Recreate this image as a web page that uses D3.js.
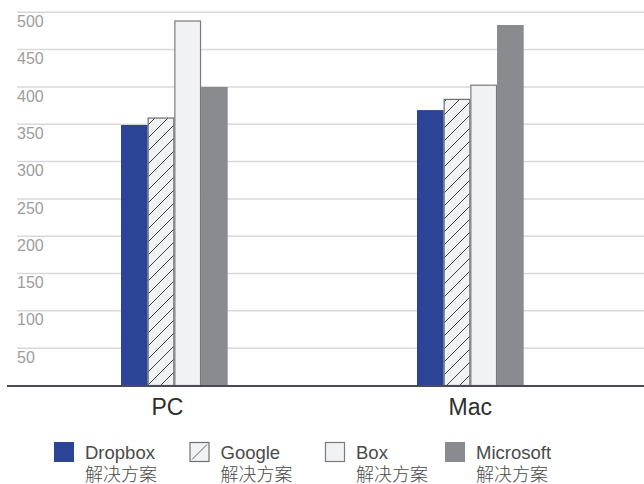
<!DOCTYPE html>
<html>
<head>
<meta charset="utf-8">
<script src="https://cdn.jsdelivr.net/npm/d3@7"></script>
<style>
  html, body { margin: 0; padding: 0; background: #fff; overflow: hidden; }
  svg { display: block; }
  text { font-family: "Helvetica Neue", Helvetica, Arial, "Liberation Sans", "Noto Sans CJK SC", sans-serif; }
</style>
</head>
<body>
<svg id="chart" width="644" height="484"></svg>
<script>
// ---- data ----
const categories = ["PC", "Mac"];
const seriesNames = ["Dropbox", "Google", "Box", "Microsoft"];
const seriesSub = ["解决方案", "解决方案", "解决方案", "解决方案"];
const dropboxValues = [349, 369];
const googleValues = [359, 384];
const boxValues = [489, 403];
const microsoftValues = [400, 483];
const yTickValues = [50, 100, 150, 200, 250, 300, 350, 400, 450, 500];

const valuesBySeries = [dropboxValues, googleValues, boxValues, microsoftValues];

// ---- layout / style ----
const W = 644, H = 484;
const svg = d3.select("#chart");

const y = d3.scaleLinear().domain([0, 500]).range([385.5, 12.3]);
const x0 = d3.scaleBand().domain(categories).range([32.2, 612.5])
  .paddingInner(0.6395).paddingOuter(0.3);
const x1 = d3.scaleBand().domain(seriesNames).range([0, x0.bandwidth()]).padding(0);

const fills = {
  Dropbox: "#2b4496",
  Google: "url(#hatch)",
  Box: "#f1f2f4",
  Microsoft: "#8a8b8f"
};
const strokes = {
  Dropbox: "none",
  Google: "#6e6e6e",
  Box: "#7a7a7a",
  Microsoft: "none"
};

// hatch pattern
const defs = svg.append("defs");
const pat = defs.append("pattern")
  .attr("id", "hatch")
  .attr("patternUnits", "userSpaceOnUse")
  .attr("width", 13).attr("height", 13);
pat.append("rect").attr("width", 13).attr("height", 13).attr("fill", "#f1f2f4");
pat.append("path")
  .attr("d", "M0,13 L13,0 M-3,3 L3,-3 M10,16 L16,10")
  .attr("stroke", "#2a2a2a").attr("stroke-width", 0.9);

// gridlines
const gridG = svg.append("g");
gridG.selectAll("line").data(yTickValues).join("line")
  .attr("x1", 17).attr("x2", W)
  .attr("y1", d => y(d)).attr("y2", d => y(d))
  .attr("stroke", "#d9d9d9").attr("stroke-width", 1.5);

// tick labels
gridG.selectAll("text").data(yTickValues).join("text")
  .attr("x", 17).attr("y", d => y(d) + 14.6)
  .attr("font-size", 16).attr("fill", "#9d9d9d")
  .text(d => d);

// bars
const rows = [];
categories.forEach((c, ci) => {
  seriesNames.forEach((s, si) => {
    rows.push({ cat: c, series: s, value: valuesBySeries[si][ci] });
  });
});

svg.append("g").selectAll("rect").data(rows).join("rect")
  .attr("x", d => x0(d.cat) + x1(d.series) + (strokes[d.series] === "none" ? 0 : 0.5))
  .attr("y", d => y(d.value) + (strokes[d.series] === "none" ? 0 : 0.5))
  .attr("width", d => x1.bandwidth() - (strokes[d.series] === "none" ? 0 : 1))
  .attr("height", d => y(0) - y(d.value) - (strokes[d.series] === "none" ? 0 : 0.5))
  .attr("fill", d => fills[d.series])
  .attr("stroke", d => strokes[d.series])
  .attr("stroke-width", 1.2);

// baseline
svg.append("line")
  .attr("x1", 7).attr("x2", W)
  .attr("y1", y(0) + 0.5).attr("y2", y(0) + 0.5)
  .attr("stroke", "#4b4a57").attr("stroke-width", 2);

// category labels
svg.append("g").selectAll("text").data(categories).join("text")
  .attr("x", d => x0(d) + x0.bandwidth() / 2 + (d === "PC" ? -7 : 0))
  .attr("y", 415)
  .attr("text-anchor", "middle")
  .attr("font-size", 23)
  .attr("fill", "#2e2e2e")
  .text(d => d);

// legend
const legendX = [54, 189.5, 325, 445];
const lg = svg.append("g").selectAll("g").data(seriesNames).join("g")
  .attr("transform", (d, i) => `translate(${legendX[i]},442)`);

lg.append("rect")
  .attr("x", d => strokes[d] === "none" ? 0 : 0.5)
  .attr("y", d => strokes[d] === "none" ? 0 : 0.5)
  .attr("width", d => strokes[d] === "none" ? 20 : 19)
  .attr("height", d => strokes[d] === "none" ? 20 : 19)
  .attr("fill", d => d === "Google" ? "#f1f2f4" : fills[d])
  .attr("stroke", d => strokes[d])
  .attr("stroke-width", 1.2);

lg.filter(d => d === "Google").append("line")
  .attr("x1", 2.5).attr("y1", 17.5).attr("x2", 17.5).attr("y2", 2.5)
  .attr("stroke", "#555").attr("stroke-width", 0.9);

lg.append("text")
  .attr("x", 31).attr("y", 17.3)
  .attr("font-size", 18.5).attr("fill", "#4a4a4a")
  .text(d => d);

lg.append("text")
  .attr("x", 31).attr("y", 39)
  .attr("font-size", 18).attr("fill", "#4a4a4a")
  .attr("font-weight", 300)
  .attr("font-family", "'Noto Sans CJK SC', sans-serif")
  .text((d, i) => seriesSub[i]);
</script>
</body>
</html>
